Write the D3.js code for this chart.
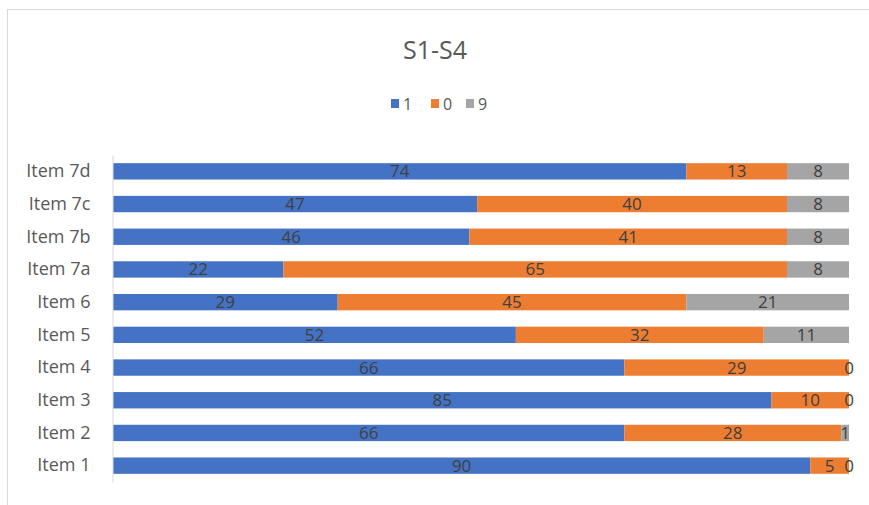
<!DOCTYPE html>
<html><head><meta charset="utf-8">
<script src="https://cdn.jsdelivr.net/npm/d3@7"></script>
<style>body{margin:0;background:#fff;}svg{display:block;font-family:"Open Sans","Noto Sans",sans-serif;}</style>
</head><body>
<svg id="chart" width="869" height="505"></svg>
<script>
const categories = ["Item 7d","Item 7c","Item 7b","Item 7a","Item 6","Item 5","Item 4","Item 3","Item 2","Item 1"];
const seriesNames = ["1","0","9"];
const s1 = [74,47,46,22,29,52,66,85,66,90];
const s0 = [13,40,41,65,45,32,29,10,28,5];
const s9 = [8,8,8,8,21,11,0,0,1,0];
const colors = ["#4472C4","#ED7D31","#A5A5A5"];
const xMax = 95;

const svg = d3.select("#chart");
// chart border
svg.append("rect").attr("x",7.5).attr("y",9.5).attr("width",870).attr("height",510)
  .attr("fill","none").attr("stroke","#d9d9d9").attr("stroke-width",1);

const x = d3.scaleLinear().domain([0,xMax]).range([113,849]);
const y = d3.scaleBand().domain(categories).range([155,482]).paddingInner(0.5).paddingOuter(0.25);

const rows = categories.map((c,i)=>({cat:c,"1":s1[i],"0":s0[i],"9":s9[i]}));
const stacked = d3.stack().keys(seriesNames)(rows);

// title
svg.append("text").attr("x",435).attr("y",59).attr("text-anchor","middle")
  .attr("font-size",25).attr("fill","#595959").text("S1-S4");

// legend
const legX = [391,431,466];
seriesNames.forEach((s,i)=>{
  svg.append("rect").attr("x",legX[i]).attr("y",99).attr("width",8).attr("height",9).attr("fill",colors[i]);
  svg.append("text").attr("x",legX[i]+12).attr("y",110).attr("font-size",16).attr("fill","#595959").text(s);
});

// bars
stacked.forEach((layer,li)=>{
  const g = svg.append("g");
  g.selectAll("rect").data(layer).join("rect")
    .attr("x",d=>x(d[0])).attr("y",d=>y(d.data.cat))
    .attr("width",d=>x(d[1])-x(d[0])).attr("height",y.bandwidth())
    .attr("fill",colors[li]);
  g.selectAll("text").data(layer).join("text")
    .attr("x",d=>(x(d[0])+x(d[1]))/2).attr("y",d=>y(d.data.cat)+y.bandwidth()/2+6)
    .attr("text-anchor","middle").attr("font-size",17).attr("fill","#404040")
    .text(d=>d[1]-d[0]);
});

// y axis
const yAxis = d3.axisLeft(y).tickSize(0).tickPadding(22);
const ag = svg.append("g").attr("transform","translate(112.5,0)").call(yAxis);
ag.select(".domain").attr("stroke","#d9d9d9");
ag.selectAll("text").attr("font-size",18).attr("fill","#595959").attr("font-family","'Open Sans','Noto Sans',sans-serif");
</script>
</body></html>
